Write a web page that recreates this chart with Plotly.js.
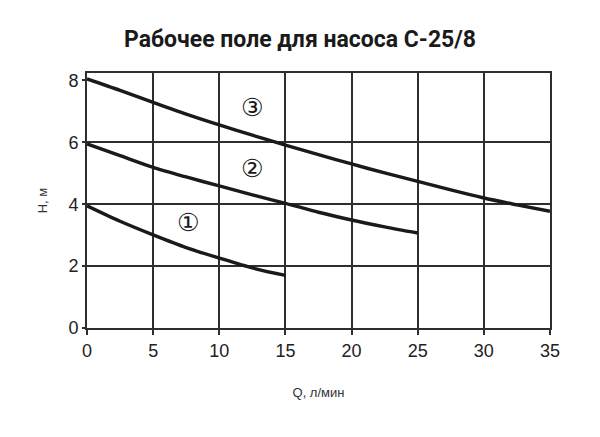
<!DOCTYPE html>
<html>
<head>
<meta charset="utf-8">
<script src="https://cdn.plot.ly/plotly-3.0.1.min.js"></script>
<style>
  html, body { margin: 0; padding: 0; background: #fff; }
  #chart { width: 600px; height: 437px; }
</style>
</head>
<body>
<div id="chart"></div>
<script>
// curve 1
var q1 = [0, 2.5, 5, 7.5, 10, 12.5, 15]
var h1 = [3.95, 3.45, 3.01, 2.60, 2.26, 1.94, 1.70]
// curve 2
var q2 = [0, 2.5, 5, 7.5, 10, 12.5, 15, 17.5, 20, 22.5, 25]
var h2 = [5.95, 5.57, 5.19, 4.88, 4.59, 4.30, 4.03, 3.74, 3.49, 3.27, 3.07]
// curve 3
var q3 = [0, 2.5, 5, 7.5, 10, 12.5, 15, 17.5, 20, 22.5, 25, 27.5, 30, 32.5, 35]
var h3 = [8.05, 7.68, 7.29, 6.91, 6.56, 6.23, 5.91, 5.60, 5.30, 5.01, 4.74, 4.46, 4.20, 3.98, 3.77]

var curveLabels = ['①', '②', '③']
var labelQ = [7.67, 12.44, 12.44]
var labelH = [3.42, 5.16, 7.12]

var xTicks = [0, 5, 10, 15, 20, 25, 30, 35]
var yTicks = [0, 2, 4, 6, 8]
var yGrid = [0, 2, 4, 6]
var yMax = 8.24

var ink = '#1a1a1a'
var gridInk = '#2e2e2e'

function curve(x, y, axis) {
    return {
        x: x, y: y, yaxis: axis,
        type: 'scatter', mode: 'lines',
        line: { color: ink, width: 3.4, shape: 'spline', smoothing: 0.8 },
        hoverinfo: 'skip', showlegend: false
    }
}

// the top curve sits on the labelled overlay axis (same range) so that axis gets drawn
var data = [curve(q1, h1, 'y'), curve(q2, h2, 'y'), curve(q3, h3, 'y2')]

var annotations = curveLabels.map(function(t, i) {
    return {
        x: labelQ[i], y: labelH[i], xref: 'x', yref: 'y',
        text: t, showarrow: false,
        font: { family: 'DejaVu Sans', size: 25, color: ink }
    }
})

var layout = {
    width: 600, height: 437,
    paper_bgcolor: '#fff', plot_bgcolor: '#fff',
    margin: { l: 87, r: 50, t: 73, b: 109 },
    title: {
        text: 'Рабочее поле для насоса С-25/8',
        font: { family: 'Roboto', size: 23, color: '#1a1a1a', weight: 'bold' },
        x: 0.5, xanchor: 'center', y: 1 - 39 / 437, yanchor: 'middle', yref: 'container'
    },
    xaxis: {
        range: [0, 35], tickvals: xTicks,
        showgrid: true, gridcolor: gridInk, gridwidth: 2,
        showline: true, linecolor: gridInk, linewidth: 2, mirror: true,
        ticks: 'outside', ticklen: 5, tickwidth: 2, tickcolor: gridInk,
        zeroline: false,
        tickfont: { family: 'Liberation Sans', size: 18, color: '#222' },
        title: { text: 'Q, л/мин', standoff: 28, font: { family: 'Liberation Sans', size: 13, color: '#333' } }
    },
    // grid axis: lines at 0..6, top edge is the frame
    yaxis: {
        range: [0, yMax], tickvals: yGrid,
        showgrid: true, gridcolor: gridInk, gridwidth: 2,
        showline: true, linecolor: gridInk, linewidth: 2, mirror: true,
        ticks: '', showticklabels: false, zeroline: false
    },
    // label axis: 0..8 with short outside ticks
    yaxis2: {
        range: [0, yMax], tickvals: yTicks, overlaying: 'y', side: 'left',
        showgrid: false, zeroline: false, showline: false,
        ticks: 'outside', ticklen: 4, tickwidth: 2, tickcolor: gridInk,
        tickfont: { family: 'Liberation Sans', size: 18, color: '#222' },
        title: { text: 'Н, м', standoff: 17, font: { family: 'Liberation Sans', size: 13, color: '#333' } }
    },
    annotations: annotations
}

Plotly.newPlot('chart', data, layout, { displayModeBar: false, staticPlot: true })
</script>
</body>
</html>
